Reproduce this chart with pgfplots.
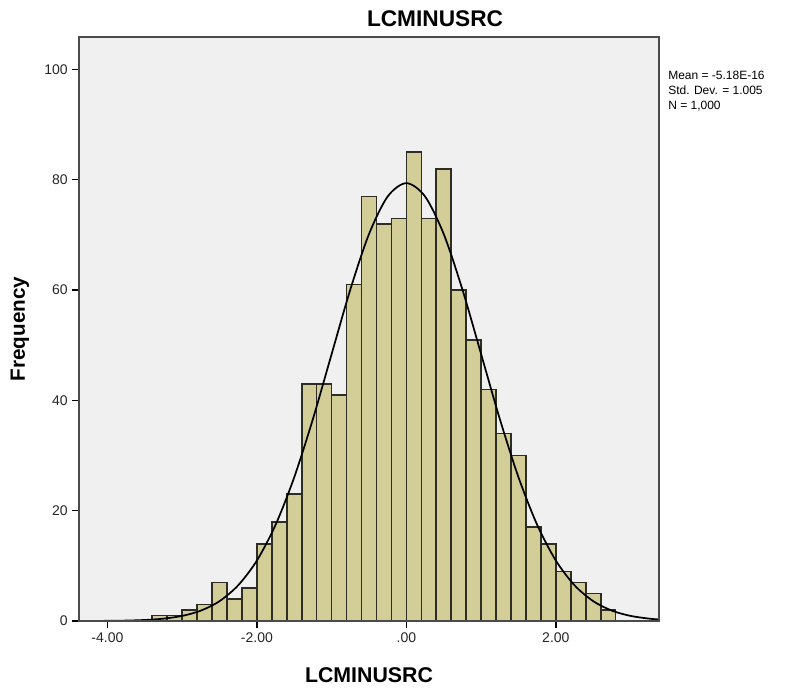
\documentclass[border=0pt]{standalone}
\usepackage{fontspec}
\setmainfont{Liberation Sans}
\usepackage{pgfplots}
\pgfplotsset{compat=1.18}

\definecolor{plotbg}{RGB}{240,240,240}
\definecolor{barfill}{RGB}{211,206,152}
\definecolor{baredge}{RGB}{45,45,35}
\definecolor{framecol}{RGB}{75,75,75}

\begin{document}
\begin{tikzpicture}
\begin{axis}[
  scale only axis,
  width=435pt,
  height=438pt,
  xmin=-4.38, xmax=3.38,
  ymin=0, ymax=105.9,
  axis on top,
  axis background/.style={fill=plotbg},
  axis line style={framecol, line width=1.1pt},
  xtick={-4,-2,0,2},
  xticklabels={-4.00,-2.00,.00,2.00},
  ytick={0,20,40,60,80,100},
  xtick pos=left, ytick pos=left,
  tick align=outside,
  major tick length=5pt,
  tick style={black, line width=1pt},
  tick label style={font=\fontsize{10.5}{12}\selectfont, text=black!85},
  /pgf/number format/assume math mode=true,
]
\addplot[ybar interval, fill=barfill, draw=baredge, line width=1.2pt] coordinates {
  (-3.4,1) (-3.2,1) (-3.0,2) (-2.8,3) (-2.6,7) (-2.4,4) (-2.2,6)
  (-2.0,14) (-1.8,18) (-1.6,23) (-1.4,43) (-1.2,43) (-1.0,41)
  (-0.8,61) (-0.6,77) (-0.4,72) (-0.2,73) (0,85) (0.2,73) (0.4,82)
  (0.6,60) (0.8,51) (1.0,42) (1.2,34) (1.4,30) (1.6,17) (1.8,14)
  (2.0,9) (2.2,7) (2.4,5) (2.6,2) (2.8,0)
};
% fitted normal curve, values typed in
\addplot[black, line width=1.3pt, smooth] coordinates {
  (-4.38,0.006) (-4.25,0.010) (-4.0,0.029) (-3.75,0.075) (-3.5,0.185)
  (-3.25,0.426) (-3.0,0.923) (-2.75,1.879) (-2.5,3.598) (-2.25,6.477)
  (-2.0,10.96) (-1.75,17.44) (-1.5,26.07) (-1.25,36.64) (-1.0,48.40)
  (-0.75,60.10) (-0.5,70.16) (-0.25,76.98) (0,79.40) (0.25,76.98)
  (0.5,70.16) (0.75,60.10) (1.0,48.40) (1.25,36.64) (1.5,26.07)
  (1.75,17.44) (2.0,10.96) (2.25,6.477) (2.5,3.598) (2.75,1.879)
  (3.0,0.923) (3.25,0.426) (3.38,0.278)
};
\coordinate (O) at (rel axis cs:0,0);
\end{axis}
% page size = 800x693 px at 0.75pt/px
\path ([shift={(-59.25pt,-54pt)}]O) rectangle ([shift={(540.75pt,465.75pt)}]O);
\node[anchor=base, font=\fontsize{17}{20}\selectfont\bfseries]
  at ([shift={(267pt,445.5pt)}]O) {LCMINUSRC};
\node[anchor=base, font=\fontsize{16}{19}\selectfont\bfseries]
  at ([shift={(217.5pt,-45.75pt)}]O) {LCMINUSRC};
\node[anchor=base, rotate=90, font=\fontsize{15.5}{18}\selectfont\bfseries]
  at ([shift={(-40.5pt,219pt)}]O) {Frequency};
\begin{scope}[font=\fontsize{9}{11}\selectfont]
\node[anchor=base west, inner sep=0pt] at ([shift={(441.75pt,405.75pt)}]O) {Mean = -5.18E-16};
\node[anchor=base west, inner sep=0pt] at ([shift={(441.75pt,394.5pt)}]O) {Std. Dev. = 1.005};
\node[anchor=base west, inner sep=0pt] at ([shift={(441.75pt,383.25pt)}]O) {N = 1,000};
\end{scope}
\end{tikzpicture}
\end{document}
